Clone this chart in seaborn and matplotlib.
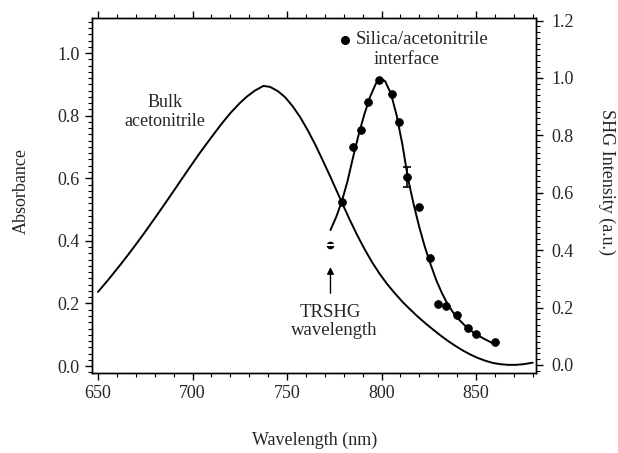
import matplotlib
matplotlib.use("Agg")
import matplotlib.pyplot as plt
from matplotlib.ticker import MultipleLocator
import seaborn as sns
import pandas as pd

# ---------------- data ----------------
# Bulk acetonitrile absorbance (left axis)
bulk_wl = [650, 656, 662, 668, 674, 680, 686, 692, 698, 704, 710, 715, 720, 725, 729,
           733, 737.5, 741, 745, 749, 753, 757, 761, 765, 769, 773, 777, 779, 783,
           787, 791, 795, 799, 803, 807, 811, 815, 819, 823, 827, 831, 835, 839, 843,
           847, 851, 855, 859, 863, 867, 871, 875, 880]
bulk_abs = [0.237, 0.280, 0.325, 0.372, 0.421, 0.472, 0.524, 0.577, 0.630, 0.682,
            0.731, 0.771, 0.808, 0.840, 0.862, 0.880, 0.895, 0.892, 0.879, 0.859,
            0.830, 0.795, 0.753, 0.707, 0.656, 0.604, 0.550, 0.523, 0.470, 0.420,
            0.374, 0.332, 0.295, 0.262, 0.233, 0.206, 0.182, 0.159, 0.138, 0.118,
            0.099, 0.081, 0.065, 0.050, 0.037, 0.026, 0.017, 0.010, 0.006, 0.004,
            0.004, 0.006, 0.011]

# SHG fit curve (right axis)
fit_wl = [773, 776, 779, 782, 785, 788, 791, 794, 797, 799.5, 802, 805, 808, 811,
          814, 817, 820, 823, 826, 829, 832, 835, 838, 841, 844, 847, 850, 854, 859]
fit_shg = [0.470, 0.515, 0.570, 0.640, 0.725, 0.805, 0.875, 0.935, 0.980, 1.000,
           0.988, 0.945, 0.870, 0.770, 0.650, 0.560, 0.480, 0.410, 0.350, 0.295,
           0.250, 0.212, 0.182, 0.158, 0.138, 0.121, 0.107, 0.092, 0.075]

# SHG measured points (right axis)
pt_wl = [779.0, 785.0, 789.1, 793.1, 798.7, 805.3, 809.1, 813.4, 819.7, 825.9,
         830.1, 834.1, 839.8, 846.0, 849.8, 859.9]
pt_shg = [0.567, 0.761, 0.819, 0.917, 0.993, 0.944, 0.847, 0.656, 0.550, 0.371,
          0.214, 0.206, 0.173, 0.127, 0.109, 0.081]

# error bar
err_wl = [813.4]
err_shg = [0.656]
err_size = [0.035]

# TRSHG wavelength marker
trshg_wl = [773.0]
trshg_shg = [0.418]

x_ticks = [650, 700, 750, 800, 850]
left_ticks = [0.0, 0.2, 0.4, 0.6, 0.8, 1.0]
right_ticks = [0.0, 0.2, 0.4, 0.6, 0.8, 1.0, 1.2]

# ---------------- plot ----------------
sns.set_theme(style="ticks")
plt.rcParams["font.family"] = ["Liberation Serif", "DejaVu Serif"]
plt.rcParams["font.size"] = 13

fig = plt.figure(figsize=(6.18, 4.53), dpi=100)
ax = fig.add_axes([0.1494, 0.1773, 0.7187, 0.7823])
ax2 = ax.twinx()

df_bulk = pd.DataFrame({"wl": bulk_wl, "abs": bulk_abs})
df_fit = pd.DataFrame({"wl": fit_wl, "shg": fit_shg})
df_pts = pd.DataFrame({"wl": pt_wl, "shg": pt_shg})

sns.lineplot(data=df_bulk, x="wl", y="abs", ax=ax, color="black", lw=1.4,
             sort=False, estimator=None)
sns.lineplot(data=df_fit, x="wl", y="shg", ax=ax2, color="black", lw=1.4,
             sort=False, estimator=None)
sns.scatterplot(data=df_pts, x="wl", y="shg", ax=ax2, color="black", s=32,
                edgecolor="black", linewidth=0.5, zorder=5)
ax2.errorbar(err_wl, err_shg, yerr=err_size, fmt="none", ecolor="black",
             elinewidth=1.2, capsize=2.8, capthick=1.2, zorder=6)
# TRSHG marker (broken dot)
ax2.plot(trshg_wl, trshg_shg, "o", color="black", ms=4.5, zorder=6)
ax2.plot(trshg_wl, trshg_shg, "_", color="white", ms=7, mew=1.5, zorder=7)

ax.set_xlim(647, 882)
ax.set_ylim(-0.021, 1.111)
ax2.set_ylim(-0.027, 1.208)

ax.set_xticks(x_ticks)
ax.set_yticks(left_ticks)
ax.set_yticklabels([f"{v:.1f}" for v in left_ticks])
ax2.set_yticks(right_ticks)
ax2.set_yticklabels([f"{v:.1f}" for v in right_ticks])
ax.xaxis.set_minor_locator(MultipleLocator(10))
ax.yaxis.set_minor_locator(MultipleLocator(0.02))
ax2.yaxis.set_minor_locator(MultipleLocator(0.02))

ax.tick_params(axis="x", which="both", direction="out", top=True, bottom=True,
               labeltop=False, color="black", labelsize=13, pad=4)
ax.tick_params(axis="y", which="both", direction="out", left=True, right=False,
               color="black", labelsize=13, pad=4)
ax2.tick_params(axis="y", which="both", direction="out", right=True,
                color="black", labelsize=13, pad=6)
for a in (ax, ax2):
    a.tick_params(which="major", length=5, width=1)
    a.tick_params(which="minor", length=3, width=0.8)
    for s in a.spines.values():
        s.set_visible(True)
        s.set_color("black")
        s.set_linewidth(1.0)

ax.set_xlabel("Wavelength (nm)", fontsize=13)
ax.set_ylabel("Absorbance", fontsize=13)
ax2.set_ylabel("SHG Intensity (a.u.)", fontsize=13, rotation=270)
ax.xaxis.set_label_coords(0.5, -0.19)
ax.xaxis.label.set_va("center")
ax.yaxis.set_label_coords(-0.16, 0.513)
ax.yaxis.label.set_va("center")
ax2.yaxis.set_label_coords(1.158, 0.538)
ax2.yaxis.label.set_va("center")

# annotations
ax.text(685.5, 0.842, "Bulk", ha="center", va="center", fontsize=13)
ax.text(685.5, 0.78, "acetonitrile", ha="center", va="center", fontsize=13)
ax2.plot([780.8], [1.133], "o", color="black", ms=5.5)
ax2.text(786.5, 1.133, "Silica/acetonitrile", ha="left", va="center", fontsize=13.5)
ax2.text(813.0, 1.066, "interface", ha="center", va="center", fontsize=13.5)
ax2.text(773.0, 0.182, "TRSHG", ha="center", va="center", fontsize=13.5)
ax2.text(774.8, 0.12, "wavelength", ha="center", va="center", fontsize=13.5)
ax2.annotate("", xy=(773.0, 0.341), xytext=(773.0, 0.25),
             arrowprops=dict(arrowstyle="-|>", color="black", lw=1.0,
                             mutation_scale=10, shrinkA=0, shrinkB=0))

fig.savefig("out.png", dpi=100)
